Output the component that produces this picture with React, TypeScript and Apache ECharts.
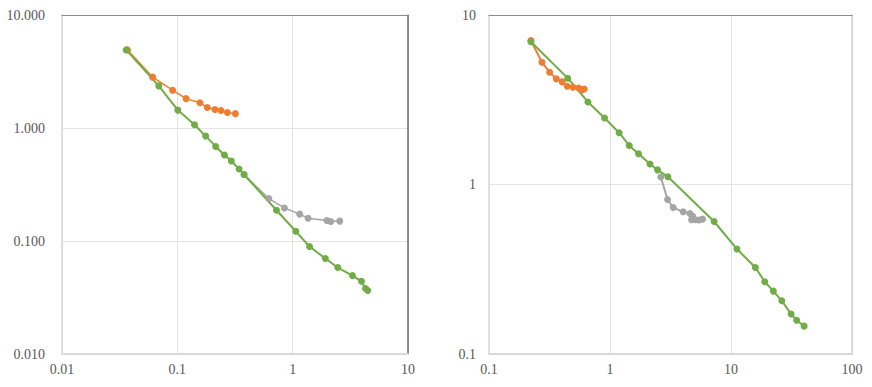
import React, { useEffect, useRef } from "react";
import * as echarts from "echarts";

const leftXTicks = ["0.01", "0.1", "1", "10"];
const leftYTicks = ["0.010", "0.100", "1.000", "10.000"];
const rightXTicks = ["0.1", "1", "10", "100"];
const rightYTicks = ["0.1", "1", "10"];

const leftOrangeX = [0.037, 0.061, 0.091, 0.119, 0.157, 0.182, 0.212, 0.239, 0.272, 0.319];
const leftOrangeY = [4.91, 2.82, 2.16, 1.82, 1.67, 1.52, 1.46, 1.43, 1.37, 1.34];
const leftGrayX = [0.379, 0.621, 0.849, 1.15, 1.36, 1.98, 2.14, 2.56];
const leftGrayY = [0.388, 0.237, 0.196, 0.173, 0.159, 0.152, 0.149, 0.15];
const leftGreenX = [0.036, 0.069, 0.101, 0.141, 0.176, 0.215, 0.256, 0.294, 0.343, 0.379, 0.724, 1.064, 1.4, 1.92, 2.46, 3.3, 3.95, 4.28, 4.48];
const leftGreenY = [4.91, 2.36, 1.44, 1.07, 0.848, 0.687, 0.576, 0.51, 0.433, 0.388, 0.187, 0.122, 0.0893, 0.07, 0.0582, 0.0494, 0.044, 0.038, 0.0365];

const rightOrangeX = [0.222, 0.274, 0.317, 0.36, 0.403, 0.443, 0.494, 0.551, 0.586, 0.613];
const rightOrangeY = [7.06, 5.26, 4.6, 4.2, 4.03, 3.8, 3.75, 3.71, 3.61, 3.66];
const rightGrayX = [2.63, 2.99, 3.33, 4.02, 4.57, 4.81, 4.72, 5.09, 5.45, 5.82];
const rightGrayY = [1.106, 0.816, 0.731, 0.69, 0.675, 0.652, 0.619, 0.619, 0.617, 0.625];
const rightGreenX = [0.222, 0.447, 0.657, 0.902, 1.19, 1.44, 1.72, 2.14, 2.47, 3.01, 7.25, 11.2, 15.9, 19.0, 22.4, 26.3, 31.4, 34.9, 40.2];
const rightGreenY = [6.96, 4.24, 3.07, 2.47, 2.02, 1.7, 1.52, 1.32, 1.22, 1.11, 0.605, 0.416, 0.324, 0.267, 0.235, 0.206, 0.172, 0.158, 0.146];

const ORANGE = "#ED7D31";
const GRAY = "#A5A5A5";
const GREEN = "#70AD47";
const FONT = "Liberation Serif";

const zip = (xs: number[], ys: number[]) => xs.map((x, i) => [x, ys[i]]);

const pickLabel = (ticks: string[]) => (v: number) => {
  const found = ticks.find((t) => Math.abs(Math.log10(parseFloat(t)) - Math.log10(v)) < 1e-6);
  return found ?? "";
};

export default function App() {
  const ref = useRef<HTMLDivElement>(null);
  useEffect(() => {
    document.body.style.margin = "0";
    const chart = echarts.init(ref.current!, null, { renderer: "svg" });
    const labelStyle = { color: "#595959", fontFamily: FONT, fontSize: 14 };
    const split = { show: true, lineStyle: { color: "#e3e3e3", width: 1 } };
    const bottomX = (idx: number, min: number, max: number, ticks: string[]) => ({
      type: "log", gridIndex: idx, min, max, logBase: 10, position: "bottom",
      axisLine: { show: true, lineStyle: { color: "#d9d9d9", width: 2 } },
      axisTick: { show: false },
      axisLabel: { ...labelStyle, margin: 8, formatter: pickLabel(ticks) },
      splitLine: split,
    });
    const topX = (idx: number, min: number, max: number) => ({
      type: "log", gridIndex: idx, min, max, logBase: 10, position: "top",
      axisLine: { show: true, lineStyle: { color: "#8c8c8c", width: 1 } },
      axisTick: { show: false }, axisLabel: { show: false }, splitLine: { show: false },
    });
    const leftY = (idx: number, min: number, max: number, ticks: string[], margin: number) => ({
      type: "log", gridIndex: idx, min, max, logBase: 10, position: "left",
      axisLine: { show: true, lineStyle: { color: "#d9d9d9", width: 1.5 } },
      axisTick: { show: false },
      axisLabel: { ...labelStyle, margin, formatter: pickLabel(ticks) },
      splitLine: split,
    });
    const rightY = (idx: number, min: number, max: number, color: string) => ({
      type: "log", gridIndex: idx, min, max, logBase: 10, position: "right",
      axisLine: { show: true, lineStyle: { color, width: 1.5 } },
      axisTick: { show: false }, axisLabel: { show: false }, splitLine: { show: false },
    });
    const line = (data: number[][], color: string, xi: number, yi: number, width: number) => ({
      type: "line", data, xAxisIndex: xi, yAxisIndex: yi,
      symbol: "circle", symbolSize: 7,
      lineStyle: { color, width },
      itemStyle: { color },
      silent: true,
    });
    chart.setOption({
      animation: false,
      textStyle: { fontFamily: FONT },
      grid: [
        { left: 62, top: 15, width: 346, height: 339 },
        { left: 489, top: 15, width: 363, height: 339 },
      ],
      xAxis: [
        bottomX(0, 0.01, 10, leftXTicks),
        topX(0, 0.01, 10),
        bottomX(1, 0.1, 100, rightXTicks),
        topX(1, 0.1, 100),
      ],
      yAxis: [
        leftY(0, 0.01, 10, leftYTicks, 17),
        rightY(0, 0.01, 10, "#6b6b6b"),
        leftY(1, 0.1, 10, rightYTicks, 13),
        rightY(1, 0.1, 10, "#d0d0d0"),
      ],
      series: [
        line(zip(leftOrangeX, leftOrangeY), ORANGE, 0, 0, 1.5),
        line(zip(leftGrayX, leftGrayY), GRAY, 0, 0, 1.5),
        line(zip(leftGreenX, leftGreenY), GREEN, 0, 0, 2),
        line(zip(rightOrangeX, rightOrangeY), ORANGE, 2, 2, 2),
        line(zip(rightGrayX, rightGrayY), GRAY, 2, 2, 2),
        line(zip(rightGreenX, rightGreenY), GREEN, 2, 2, 2),
      ],
    });
    return () => chart.dispose();
  }, []);
  return <div ref={ref} style={{ width: 872, height: 387 }} />;
}
